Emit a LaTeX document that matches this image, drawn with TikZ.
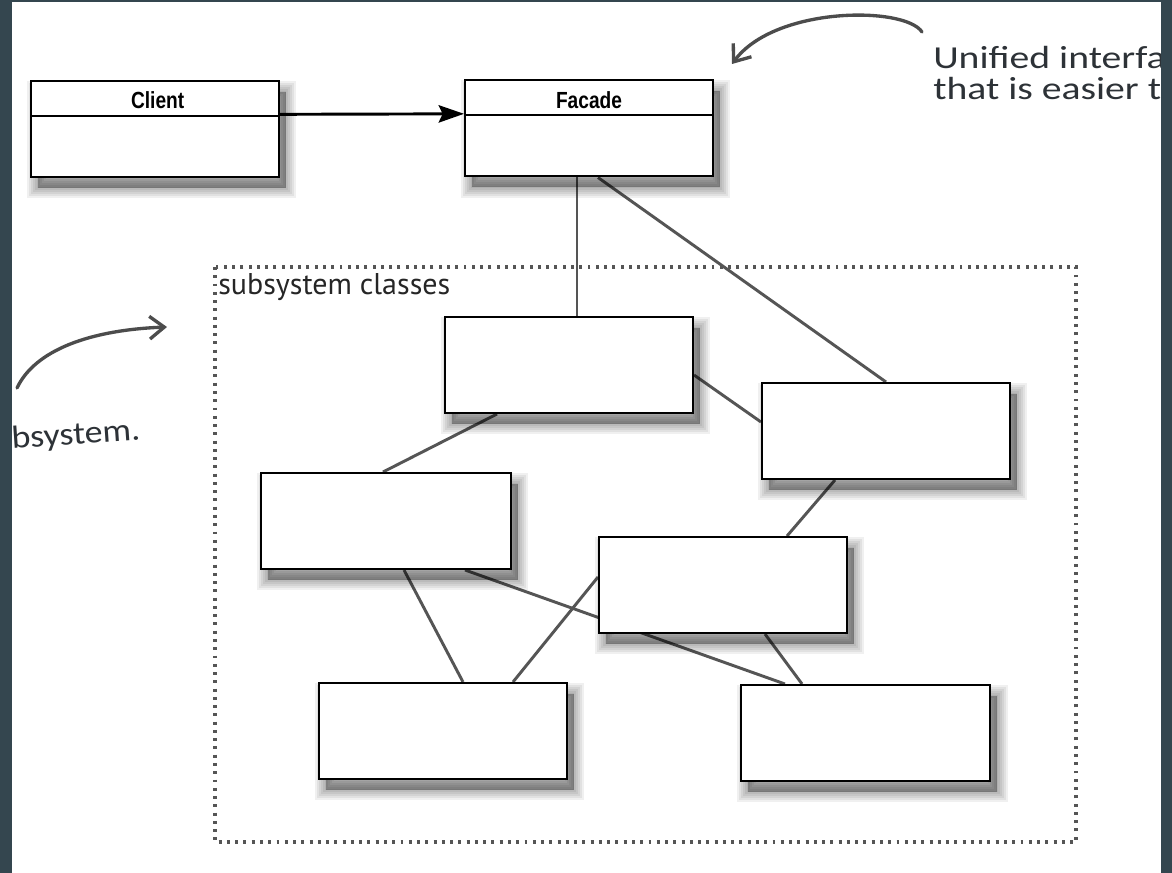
\documentclass[tikz,border=0pt]{standalone}
\usepackage{fontspec}
\setmainfont{Liberation Sans}
\newfontfamily\handfont{Carlito}
\newfontfamily\groupfont{PT Sans}
\usetikzlibrary{arrows.meta,shadows}
\definecolor{framegray}{RGB}{52,70,79}
\definecolor{wiregray}{RGB}{85,85,85}
\definecolor{ink}{RGB}{45,50,55}
\pgfdeclarelayer{bg}
\pgfsetlayers{bg,main}

\begin{document}
\begin{tikzpicture}[x=0.75pt, y=-0.75pt,
	haze/.style={general shadow={fill=black, draw=black, opacity=0.06, line width=#1, shadow xshift=5pt, shadow yshift=-8pt}},
	box/.style={draw=black, line width=1.5pt, fill=white, inner sep=0pt,
		minimum width=186pt, minimum height=72pt,
		haze=16pt, haze=13pt, haze=10pt, haze=7pt, haze=4pt, haze=1pt},
	wire/.style={draw=wiregray, line width=2.2pt},
	hand/.style={draw=black!70, line width=2.5pt, line cap=round, -{Straight Barb[length=11pt,width=17pt,line width=2.5pt]}},
	title/.style={anchor=base, inner sep=0pt, font=\fontsize{17.5}{20}\selectfont\bfseries},
	note/.style={anchor=base west, inner sep=0pt, text=ink, font=\handfont\fontsize{24}{28}\selectfont}]
				\useasboundingbox (0,0) rectangle (1172,873);
				\begin{pgfonlayer}{bg}
					\fill[white] (0,0) rectangle (1172,873);
				\end{pgfonlayer}
				\draw[draw=wiregray, line width=2.3pt, dash pattern=on 2.2pt off 4pt] (215,267) rectangle (1076,842);
				\node[anchor=base west, inner sep=0pt, text=black!85, font=\groupfont\fontsize{22.5}{26}\selectfont] (grp) at (218,295) {subsystem classes};
				\node[box] (client) at (155,129) {};
				\node[box] (facade) at (589,128.5) {};
				\node[box] (s1) at (569,365) {};
				\node[box] (s2) at (886,431) {};
				\node[box, minimum width=187.5pt] (s3) at (386,521) {};
				\node[box] (s4) at (723,585) {};
				\node[box] (s5) at (443,731) {};
				\node[box, minimum width=187pt] (s6) at (865.5,733) {};
				\foreach \c in {client,facade} {
					\draw[line width=1.5pt] ([yshift=-27pt]\c.north west) -- ([yshift=-27pt]\c.north east);
				}
				\node[title] (ctitle) at ([xshift=2pt, yshift=-21.5pt]client.north) {\scalebox{0.82}[1]{Client}};
				\node[title] (ftitle) at ([yshift=-21.5pt]facade.north) {\scalebox{0.82}[1]{Facade}};
				\draw[line width=2.2pt, -{Stealth[length=19pt,width=13pt,inset=3pt]}] ([yshift=11pt]client.east) -- ([yshift=11pt]facade.west);
				\begin{pgfonlayer}{bg}
					\draw[wire] ([xshift=-9pt]facade.south) -- ([xshift=6pt]s1.north);
					\draw[wire] ([xshift=6.75pt]facade.south) -- (s2.north);
					\draw[wire] ([yshift=-7.5pt]s1.east) -- ([yshift=6.75pt]s2.west);
					\draw[wire] ([xshift=-54pt]s1.south) -- ([xshift=-2.25pt]s3.north);
					\draw[wire] ([xshift=-38.25pt]s2.south) -- ([xshift=48pt]s4.north);
					\draw[wire] ([xshift=13.5pt]s3.south) -- ([xshift=15pt]s5.north);
					\draw[wire] ([xshift=59.25pt]s3.south) -- ([xshift=-60.4pt]s6.north);
					\draw[wire] ([xshift=52.5pt]s5.north) -- ([yshift=6pt]s4.west);
					\draw[wire] ([xshift=31.5pt]s4.south) -- ([xshift=-47.6pt]s6.north);
				\end{pgfonlayer}
				\node[note] (uni1) at (933,69) {\scalebox{1.24}[1]{Unified interface}};
				\node[note] (uni2) at (933,100) {\scalebox{1.24}[1]{that is easier to use}};
				\node[note, anchor=base east, rotate=4] (subnote) at (141,440) {\scalebox{1.12}[1]{subsystem.}};
				\coordinate (uniTail) at (922,32);
				\coordinate (uniTip) at (732,64);
				\coordinate (subTail) at (17,388);
				\coordinate (subTip) at (167,327);
				\draw[hand] (uniTail) .. controls (905,6) and (775,6) .. (uniTip);
				\draw[hand] (subTail) .. controls (35,350) and (90,330) .. (subTip);
				\fill[framegray] (0,0) rectangle (12,873);
				\fill[framegray] (0,0) rectangle (1172,2);
				\fill[framegray] (1161,0) rectangle (1172,873);
			\end{tikzpicture}
\end{document}
